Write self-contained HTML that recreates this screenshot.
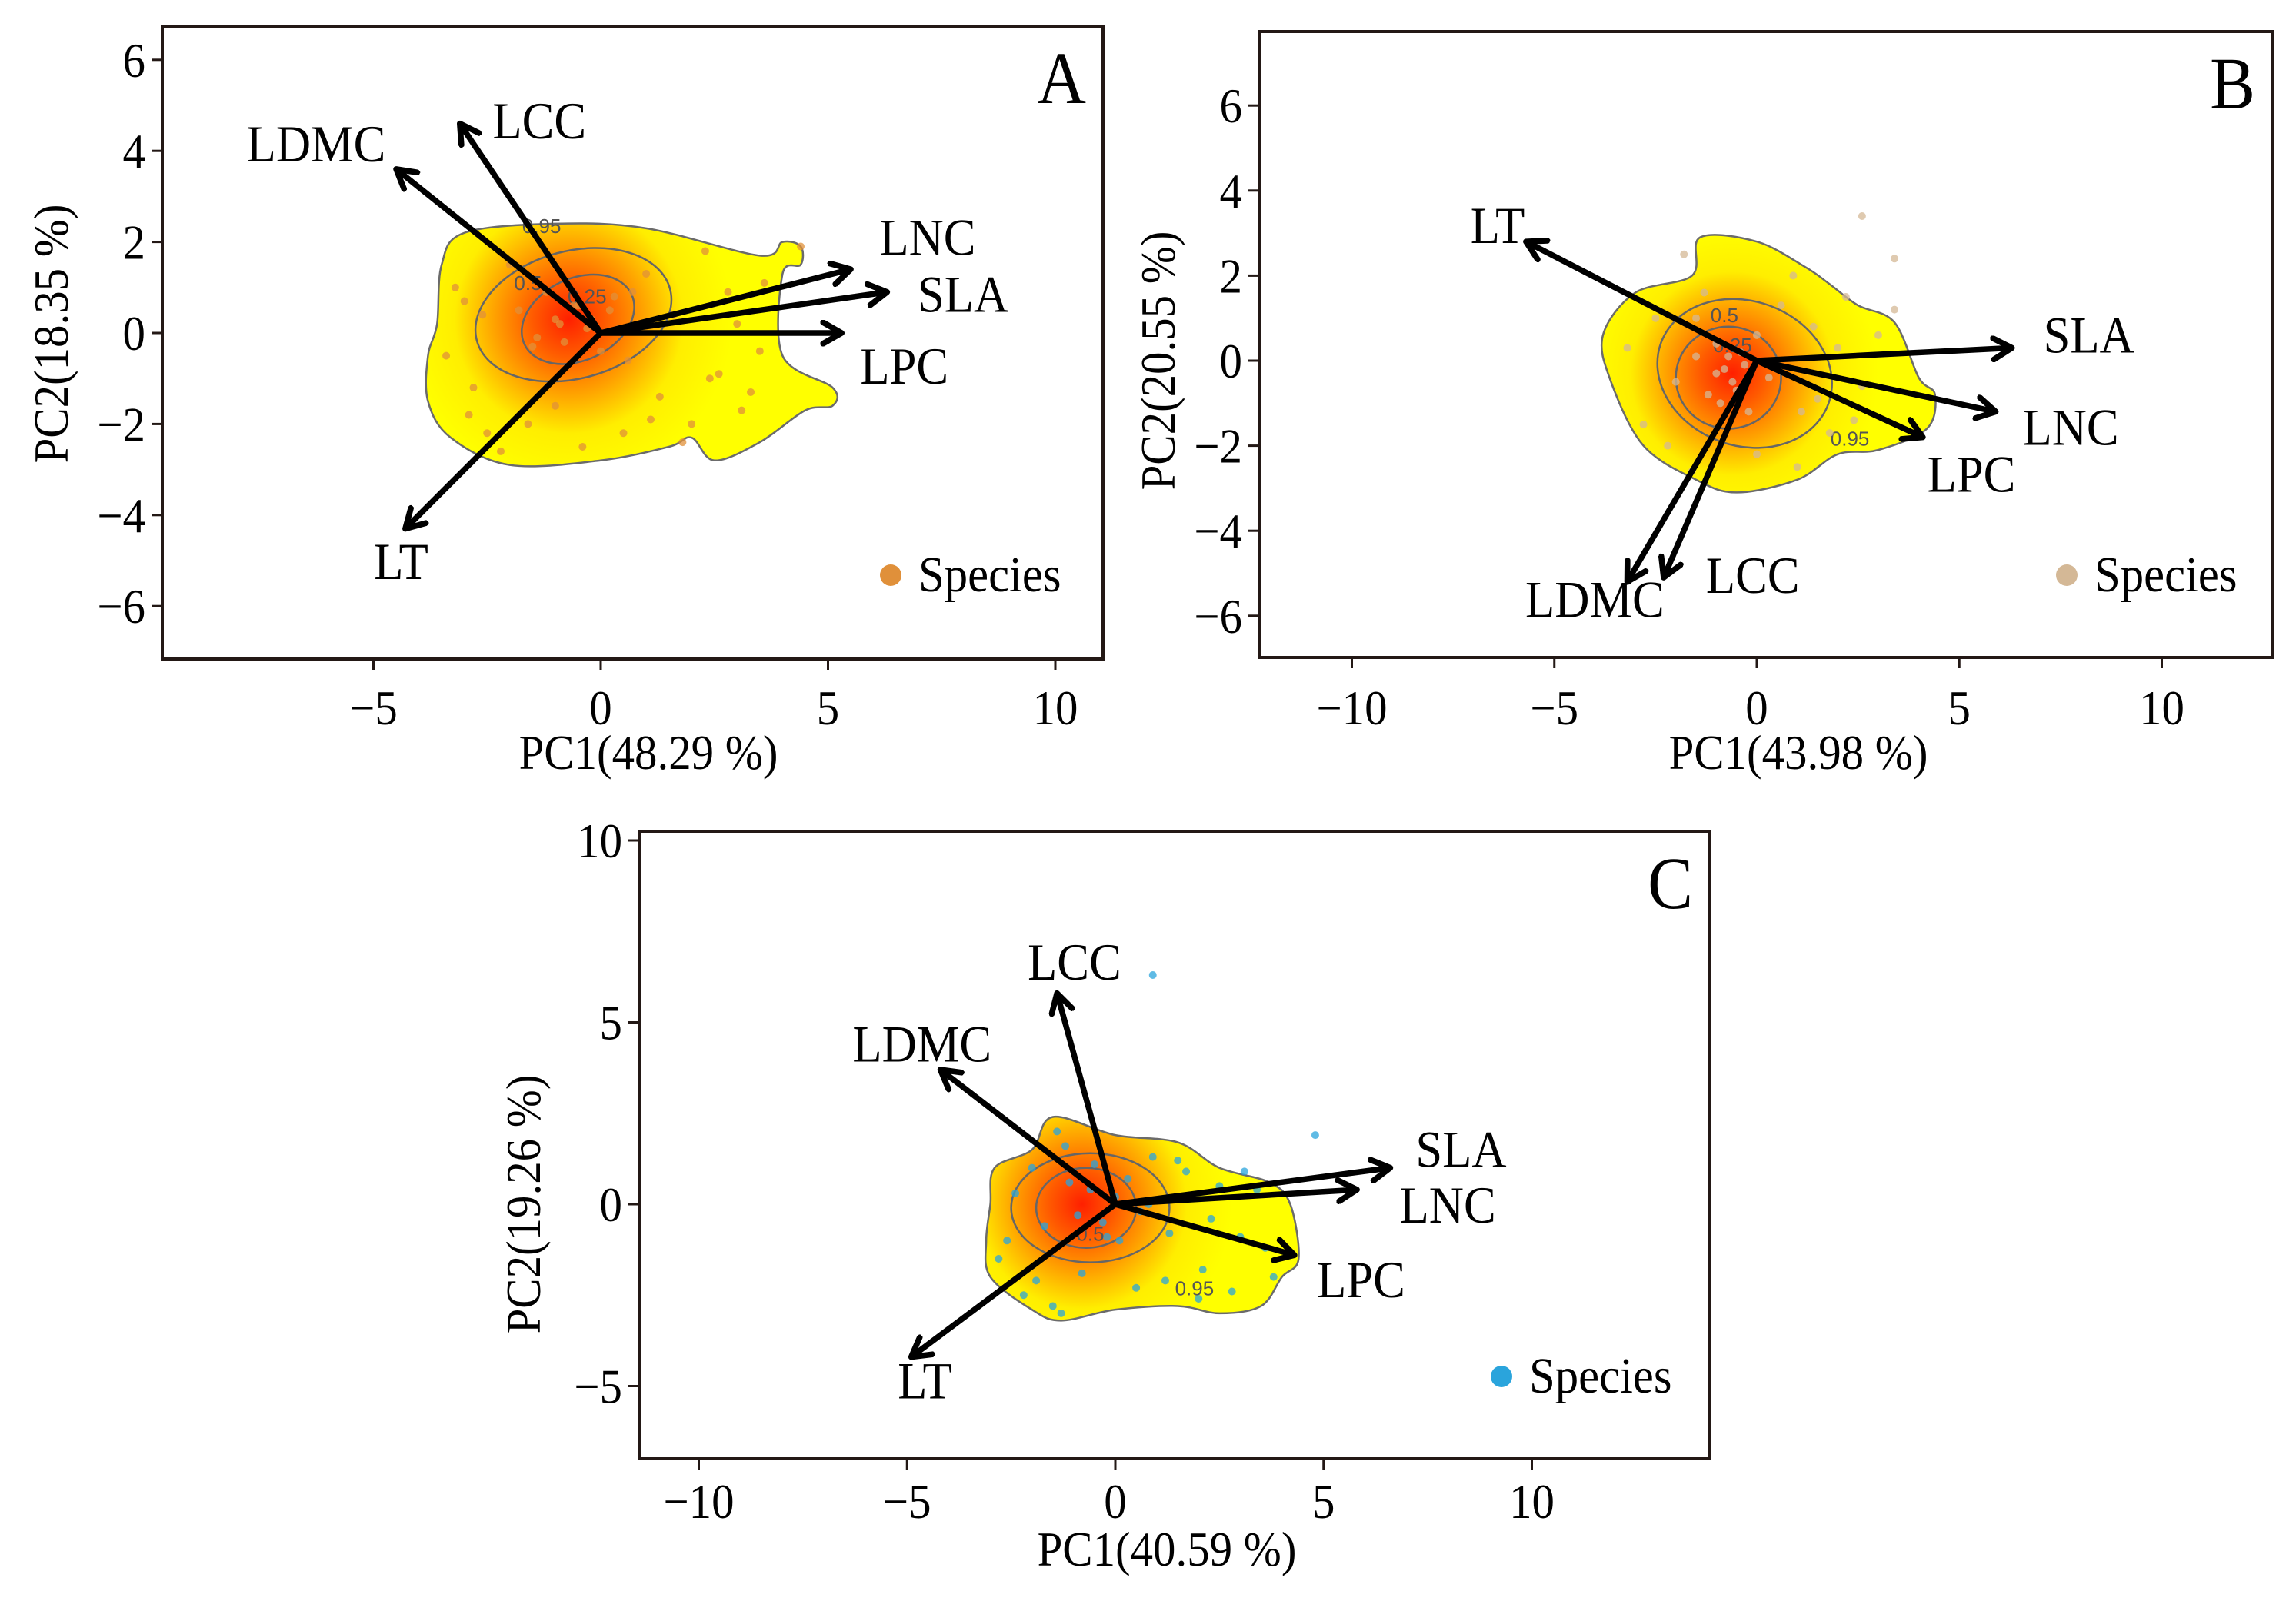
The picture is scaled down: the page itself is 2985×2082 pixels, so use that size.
<!DOCTYPE html>
<html><head><meta charset="utf-8">
<style>
html,body{margin:0;padding:0;background:#fff;}
svg{display:block;font-family:"Liberation Serif",serif;}
</style></head>
<body>
<svg id="fig" xmlns="http://www.w3.org/2000/svg" width="2985" height="2082" viewBox="0 0 2985 2082">
<defs>
<marker id="ah" viewBox="0 0 10 10" refX="8" refY="5" markerWidth="4.6" markerHeight="4.6" orient="auto" markerUnits="strokeWidth">
<polyline points="1,1 8,5 1,9" fill="none" stroke="#000" stroke-width="2.2" stroke-linecap="round" stroke-linejoin="round"/>
</marker>
</defs>
</svg>
<script>
// ---- data ----
const traitsA = ["LDMC","LCC","LNC","SLA","LPC","LT"];
const pc1A = [-4.5,-3.1,5.5,6.3,5.3,-4.3];
const pc2A = [3.6,4.6,1.4,0.9,0.0,-4.3];
const labPc1A = [-6.26,-1.35,7.19,7.97,6.68,-4.39];
const labPc2A = [4.17,4.68,2.12,0.87,-0.71,-5.0];

const traitsB = ["LT","SLA","LNC","LPC","LDMC","LCC"];
const pc1B = [-5.7,6.3,5.9,4.1,-3.2,-2.3];
const pc2B = [2.8,0.3,-1.2,-1.8,-5.2,-5.1];
const labPc1B = [-6.4,8.2,7.75,5.3,-4.0,-0.1];
const labPc2B = [3.2,0.62,-1.55,-2.65,-5.6,-5.03];

const traitsC = ["LCC","LDMC","SLA","LNC","LPC","LT"];
const pc1C = [-1.4,-4.2,6.6,5.8,4.3,-4.9];
const pc2C = [5.8,3.7,1.0,0.4,-1.4,-4.2];
const labPc1C = [-0.98,-4.64,8.3,7.98,5.9,-4.57];
const labPc2C = [6.68,4.43,1.53,0.0,-2.05,-4.83];

const hullAx = [-3.5,-3.0,-1.0,1.0,3.5,4.0,4.4,4.4,4.0,4.0,5.1,5.1,4.5,3.5,2.5,2.0,1.5,0.0,-2.0,-3.3,-3.8,-3.8,-3.6];
const hullAy = [1.5,2.2,2.4,2.3,1.7,2.0,1.9,1.5,1.3,-0.5,-1.2,-1.6,-1.7,-2.4,-2.8,-2.3,-2.5,-2.8,-2.9,-2.3,-1.5,-0.5,0.2];
const hullBx = [-3.8,-3.0,-1.6,-1.4,0.0,1.2,1.8,2.5,3.4,4.0,4.4,4.2,3.0,2.0,1.0,-0.5,-1.5,-2.8,-3.6];
const hullBy = [0.6,1.6,2.0,2.9,2.8,2.2,1.8,1.3,0.9,-0.4,-0.8,-1.6,-2.1,-2.2,-2.8,-3.1,-2.8,-2.0,-0.5];
const hullCx = [-3.0,-2.9,-2.0,-1.5,0.0,1.5,2.5,3.7,4.2,4.4,4.0,3.5,2.5,1.5,0.0,-1.3,-2.0,-3.0,-3.1];
const hullCy = [0.0,1.0,1.5,2.4,1.9,1.7,1.0,0.6,0.0,-1.5,-2.0,-2.8,-3.0,-2.8,-2.9,-3.2,-2.9,-2.0,-1.0];

const ptsAx = [-3.2,-2.8,-2.5,-2.0,-1.8,-1.5,-1.2,-1.0,-0.8,-0.5,-0.3,0.0,0.3,0.6,1.0,1.3,1.6,2.0,2.3,2.6,3.0,3.3,3.6,-3.4,-2.9,-2.2,-1.6,-1.0,-0.4,0.5,1.1,1.8,2.4,3.1,4.4,-0.9,-0.6,-0.2,0.2,-1.4,0.4,0.7,2.8,3.5,-2.6,-3.0];
const ptsAy = [1.0,-1.2,-2.2,1.5,0.5,-0.3,0.9,0.3,-0.2,0.6,0.1,-0.4,0.8,-0.6,1.3,-1.4,0.4,-2.0,1.8,-0.9,0.2,-1.3,1.1,-0.5,-1.8,-2.6,-2.0,-1.6,-2.5,-2.2,-1.9,-2.4,-1.0,-1.7,1.9,0.2,0.6,0.3,0.5,-0.1,0.1,0.9,0.9,-0.4,0.4,0.7];
const ptsBx = [-3.2,-2.8,-2.5,-2.0,-1.8,-1.5,-1.2,-1.0,-0.8,-0.6,-0.4,-0.2,0.0,0.3,0.6,1.0,1.4,1.8,2.2,2.6,3.0,3.4,-1.0,-0.7,-0.5,-0.9,-1.3,0.5,1.1,-2.2,-1.6,0.0,0.9,2.0,2.6,3.4,-1.5,-0.3,1.5,2.4];
const ptsBy = [0.3,-1.5,1.0,-0.5,2.5,0.1,-0.8,0.4,-0.2,-0.5,0.2,-1.2,0.6,-0.4,1.3,-2.5,0.8,-1.7,1.5,-0.6,0.6,1.2,-0.3,0.1,-0.7,-1.0,1.6,-0.2,-1.2,-2.0,-2.6,-2.2,2.0,0.3,3.4,2.4,1.0,-0.1,-0.9,-1.4];
const ptsCx = [-2.8,-2.4,-2.0,-1.7,-1.4,-1.1,-0.9,-0.6,-0.3,0.0,0.3,0.6,0.9,1.3,1.7,2.1,2.5,3.0,3.4,3.8,-2.2,-1.5,-0.8,0.5,1.2,2.0,2.8,3.6,-1.2,-0.5,0.1,0.8,1.5,2.3,3.1,-2.6,-1.9,0.9,4.8,-1.3,-0.2];
const ptsCy = [-1.5,0.3,1.0,-0.6,2.0,0.6,-0.3,0.4,-0.5,0.2,0.7,-0.2,1.3,-0.8,0.9,-1.8,0.5,-0.9,0.4,-2.0,-2.5,-2.8,-1.9,-2.3,-2.1,-2.6,-2.4,-1.2,1.6,1.1,-1.0,0.0,1.2,-0.4,0.9,-1.0,-2.1,6.3,1.9,-3.0,-0.9];

// ---- layout ----
const panels = [
 {id:"a",letter:"A",box:[211,34,1434,857],x0:781,xu:59.1,y0:433,yu:59.2,xt:[-5,0,5,10],yt:[-6,-4,-2,0,2,4,6],
  xl:"PC1(48.29 %)",yl:"PC2(18.35 %)",xlPos:[843,1000],ylPos:[66,434],tickY:942,
  tr:traitsA,px:pc1A,py:pc2A,lx:labPc1A,ly:labPc2A,hx:hullAx,hy:hullAy,dx:ptsAx,dy:ptsAy,dot:"#e0903a",center:[-0.7,0.3],
  contours:[[-0.6,0.4,2.2,1.4,-15],[-0.5,0.3,1.3,0.9,-25]],conLab:[["0.95",-1.3,2.2],["0.5",-1.6,0.95],["0.25",-0.3,0.65]],legend:[1158,748]},
 {id:"b",letter:"B",box:[1637,41,2954,855],x0:2284,xu:52.65,y0:469,yu:55.3,xt:[-10,-5,0,5,10],yt:[-6,-4,-2,0,2,4,6],
  xl:"PC1(43.98 %)",yl:"PC2(20.55 %)",xlPos:[2338,1000],ylPos:[1505,469],tickY:942,
  tr:traitsB,px:pc1B,py:pc2B,lx:labPc1B,ly:labPc2B,hx:hullBx,hy:hullBy,dx:ptsBx,dy:ptsBy,dot:"#d4b896",center:[-0.6,-0.3],
  contours:[[-0.3,-0.3,2.2,1.7,20],[-0.7,-0.4,1.3,1.2,0]],conLab:[["0.5",-0.8,0.9],["0.25",-0.6,0.2],["0.95",2.3,-2.0]],legend:[2687,748]},
 {id:"c",letter:"C",box:[831,1081,2223,1897],x0:1450,xu:54.15,y0:1566,yu:47.3,xt:[-10,-5,0,5,10],yt:[-5,0,5,10],
  xl:"PC1(40.59 %)",yl:"PC2(19.26 %)",xlPos:[1517,2036],ylPos:[680,1566],tickY:1974,
  tr:traitsC,px:pc1C,py:pc2C,lx:labPc1C,ly:labPc2C,hx:hullCx,hy:hullCy,dx:ptsCx,dy:ptsCy,dot:"#2aa4dc",center:[-0.8,0.0],
  contours:[[-0.6,-0.1,1.9,1.5,0],[-0.7,-0.1,1.2,1.1,0]],conLab:[["0.95",1.9,-2.5],["0.5",-0.6,-1.0]],legend:[1952,1790]}
];

const NS="http://www.w3.org/2000/svg";
const svg=document.getElementById("fig");
function mk(tag,attrs,parent){const e=document.createElementNS(NS,tag);for(const k in attrs)e.setAttribute(k,attrs[k]);(parent||svg).appendChild(e);return e;}
function txt(parent,x,y,size,anchor,str,rot){
  const t=mk("text",{x:0,y:0,"font-size":size,"text-anchor":anchor,fill:"#000",
    transform:"translate("+x+","+y+")"+(rot?" rotate("+rot+")":"")+" scale(0.92,1)"},parent);
  t.textContent=str;return t;
}

function smoothPath(pts){
  const n=pts.length;let d="M"+pts[0][0]+","+pts[0][1];
  for(let i=0;i<n;i++){
    const p0=pts[(i-1+n)%n],p1=pts[i],p2=pts[(i+1)%n],p3=pts[(i+2)%n];
    const c1=[p1[0]+(p2[0]-p0[0])/6,p1[1]+(p2[1]-p0[1])/6];
    const c2=[p2[0]-(p3[0]-p1[0])/6,p2[1]-(p3[1]-p1[1])/6];
    d+="C"+c1[0]+","+c1[1]+" "+c2[0]+","+c2[1]+" "+p2[0]+","+p2[1];
  }
  return d+"Z";
}

panels.forEach(P=>{
  const sx=v=>P.x0+v*P.xu, sy=v=>P.y0-v*P.yu;
  const g=mk("g",{});
  
  
  const [L,T,R,B]=P.box;
  const cp=mk("clipPath",{id:"clip"+P.id},g);
  mk("rect",{x:L,y:T,width:R-L,height:B-T},cp);
  const plot=mk("g",{"clip-path":"url(#clip"+P.id+")"},g);
  
  
  const defs=mk("defs",{},g);
  const rg=mk("radialGradient",{id:"grad"+P.id,gradientUnits:"userSpaceOnUse",cx:sx(P.center[0]),cy:sy(P.center[1]),r:3.6*P.xu},defs);
  [["0","#ff2000"],["0.22","#ff5a00"],["0.45","#ffa000"],["0.7","#ffee00"],["1","#ffff00"]].forEach(s=>mk("stop",{offset:s[0],"stop-color":s[1]},rg));
  const hull=P.hx.map((x,i)=>[sx(x),sy(P.hy[i])]);
  const blob=mk("path",{d:smoothPath(hull),fill:"url(#grad"+P.id+")",stroke:"#6b6b6b","stroke-width":2.5},plot);
  
  
  P.contours.forEach(c=>{
    const e=mk("ellipse",{cx:sx(c[0]),cy:sy(c[1]),rx:c[2]*P.xu,ry:c[3]*P.yu,fill:"none",stroke:"#666","stroke-width":2.5,transform:"rotate("+c[4]+" "+sx(c[0])+" "+sy(c[1])+")"},plot);
    
    
  });
  P.conLab.forEach(c=>{
    const t=mk("text",{x:sx(c[1]),y:sy(c[2]),"font-family":"Liberation Sans, sans-serif","font-size":26,fill:"#555","text-anchor":"middle"},plot);
    t.textContent=c[0];
    
    
  });
  P.dx.forEach((x,i)=>{
    const c=mk("circle",{cx:sx(x),cy:sy(P.dy[i]),r:5,fill:P.dot,opacity:0.75},plot);
    
    
  });
  P.tr.forEach((n,i)=>{
    const a=mk("line",{x1:sx(0),y1:sy(0),x2:sx(P.px[i]),y2:sy(P.py[i]),stroke:"#000","stroke-width":7.5,"marker-end":"url(#ah)"},plot);
    
    
    const t=txt(plot,sx(P.lx[i]),sy(P.ly[i])+24,68,"middle",n);
    
    
  });
  const fr=mk("rect",{x:L,y:T,width:R-L,height:B-T,fill:"none",stroke:"#231815","stroke-width":4},g);
  
  
  P.xt.forEach(v=>{
    const tk=mk("line",{x1:sx(v),x2:sx(v),y1:B,y2:B+14,stroke:"#231815","stroke-width":3},g);
    
    
    const t=txt(g,sx(v),P.tickY,64,"middle",v<0?"\u2212"+(-v):String(v));
    
    
  });
  P.yt.forEach(v=>{
    const tk=mk("line",{x1:L-14,x2:L,y1:sy(v),y2:sy(v),stroke:"#231815","stroke-width":3},g);
    
    
    const t=txt(g,L-22,sy(v)+22,64,"end",v<0?"\u2212"+(-v):String(v));
    
    
  });
  const xl=txt(g,P.xlPos[0],P.xlPos[1],64,"middle",P.xl);
  
  
  const yl=txt(g,P.ylPos[0]+22,P.ylPos[1],64,"middle",P.yl,-90);
  
  
  const lt=txt(g,R-22,T+100,96,"end",P.letter);
  
  
  const lg=mk("g",{},g);
  
  
  mk("circle",{cx:P.legend[0],cy:P.legend[1],r:14,fill:P.dot},lg);
  txt(lg,P.legend[0]+36,P.legend[1]+21,66,"start","Species");
});
</script>
</body></html>
